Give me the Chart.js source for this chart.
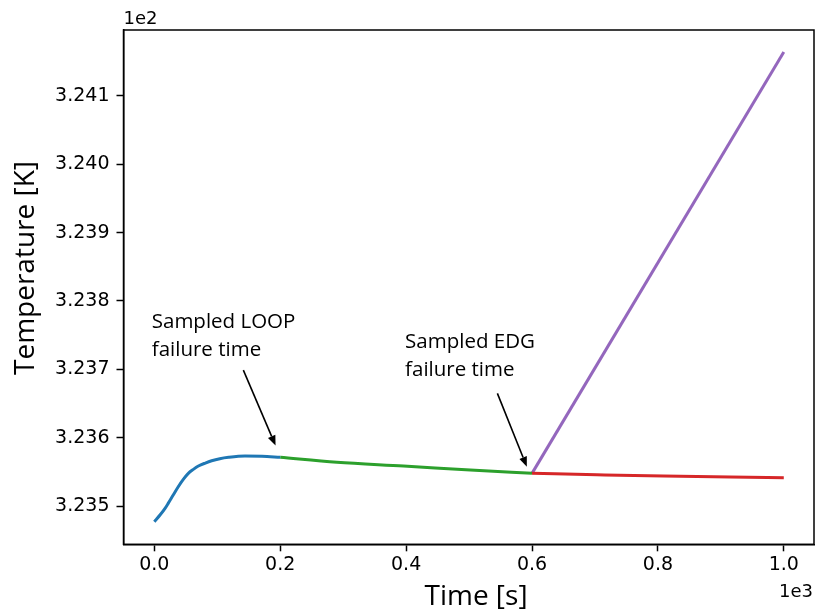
<!DOCTYPE html>
<html>
<head>
<meta charset="utf-8">
<script src="https://cdn.jsdelivr.net/npm/chart.js@4/dist/chart.umd.min.js"></script>
<style>
  html, body { margin: 0; padding: 0; background: #ffffff; }
  #wrap { width: 816px; height: 613px; position: relative; }
</style>
</head>
<body>
<div id="wrap"><canvas id="chart" width="816" height="613"></canvas></div>
<script>
// Time in seconds, temperature in kelvin.
// Phase 1: normal operation up to the sampled LOOP failure time
const normalTime = [0, 9, 17, 22, 30, 38, 46, 54, 62, 70, 81, 91, 104, 118, 144, 171, 200];
const normalTemp = [323.4771, 323.4868, 323.4966, 323.5039, 323.5161, 323.5282, 323.5390, 323.5478, 323.5536,
                    323.5585, 323.5629, 323.5662, 323.5692, 323.5712, 323.5731, 323.5727, 323.5712];

// Phase 2: after LOOP, on emergency diesel power
const loopTime = [200, 290, 396, 502, 600];
const loopTemp = [323.5712, 323.5639, 323.5585, 323.5526, 323.5478];

// Phase 3a: EDG keeps running
const edgOkTime = [600, 703, 809, 915, 1000];
const edgOkTemp = [323.5478, 323.5458, 323.5439, 323.5424, 323.5414];

// Phase 3b: EDG fails at the sampled time
const edgFailTime = [600, 1000];
const edgFailTemp = [323.5478, 324.1644];

// Axis ticks (raw units; labels shown with 1e3 / 1e2 offsets)
const xTickValues = [0, 200, 400, 600, 800, 1000];
const yTickValues = [323.5, 323.6, 323.7, 323.8, 323.9, 324.0, 324.1];

// Callouts: text anchor, arrow tail and arrow tip in data coordinates
const callouts = [
  { lines: ['Sampled LOOP', 'failure time'], text: [-4.1, 323.7610], from: [141.4, 323.6989], to: [192.6, 323.5885] },
  { lines: ['Sampled EDG', 'failure time'],  text: [398.4, 323.7306], from: [545.0, 323.6648], to: [591.8, 323.5575] }
];

function pts(xs, ys) { return xs.map((x, i) => ({ x: x, y: ys[i] })); }

const series = [
  { data: pts(normalTime, normalTemp), color: '#1f77b4', smooth: true },
  { data: pts(loopTime, loopTemp), color: '#2ca02c', smooth: true },
  { data: pts(edgOkTime, edgOkTemp), color: '#d62728', smooth: true },
  { data: pts(edgFailTime, edgFailTemp), color: '#9467bd', smooth: false }
];

const tickFont = { family: 'DejaVu Sans', size: 19 };
const titleFont = '28px "Open Sans"';
const noteFont = '20.5px "Open Sans"';

const frameAndText = {
  id: 'frameAndText',
  afterDraw(chart) {
    const ctx = chart.ctx;
    const a = chart.chartArea;
    const xs = chart.scales.x, ys = chart.scales.y;
    ctx.save();
    // axes frame
    ctx.strokeStyle = '#000';
    ctx.lineWidth = 1.5;
    ctx.strokeRect(a.left, a.top, a.right - a.left, a.bottom - a.top);

    // offset labels
    ctx.fillStyle = '#000';
    ctx.font = '18px "DejaVu Sans"';
    ctx.textAlign = 'left';
    ctx.textBaseline = 'alphabetic';
    ctx.fillText('1e2', a.left, 24);
    ctx.textAlign = 'right';
    ctx.fillText('1e3', a.right - 1, 597);

    // axis titles
    ctx.font = titleFont;
    ctx.textAlign = 'center';
    ctx.fillText('Time [s]', 476, 605);
    ctx.save();
    ctx.translate(34, 268);
    ctx.rotate(-Math.PI / 2);
    ctx.fillText('Temperature [K]', 0, 0);
    ctx.restore();

    // callouts
    ctx.font = noteFont;
    ctx.textAlign = 'left';
    callouts.forEach(c => {
      const tx = xs.getPixelForValue(c.text[0]);
      const ty = ys.getPixelForValue(c.text[1]);
      c.lines.forEach((s, i) => ctx.fillText(s, tx, ty + i * 28));
      const x0 = xs.getPixelForValue(c.from[0]), y0 = ys.getPixelForValue(c.from[1]);
      const x1 = xs.getPixelForValue(c.to[0]), y1 = ys.getPixelForValue(c.to[1]);
      const ang = Math.atan2(y1 - y0, x1 - x0);
      const headLen = 10, headHalf = 4;
      const bx = x1 - headLen * Math.cos(ang), by = y1 - headLen * Math.sin(ang);
      ctx.lineWidth = 1.6;
      ctx.beginPath();
      ctx.moveTo(x0, y0);
      ctx.lineTo(bx, by);
      ctx.stroke();
      ctx.beginPath();
      ctx.moveTo(x1, y1);
      ctx.lineTo(bx + headHalf * Math.sin(ang), by - headHalf * Math.cos(ang));
      ctx.lineTo(bx - headHalf * Math.sin(ang), by + headHalf * Math.cos(ang));
      ctx.closePath();
      ctx.fill();
    });
    ctx.restore();
  }
};

new Chart(document.getElementById('chart'), {
  type: 'scatter',
  data: {
    datasets: series.map(s => ({
      data: s.data,
      showLine: true,
      borderColor: s.color,
      backgroundColor: s.color,
      borderWidth: 3,
      pointRadius: 0,
      pointHoverRadius: 0,
      cubicInterpolationMode: s.smooth ? 'monotone' : 'default',
      tension: 0
    }))
  },
  options: {
    responsive: false,
    animation: false,
    events: [],
    layout: { padding: { top: 30, right: 2, left: 0, bottom: 0 } },
    plugins: { legend: { display: false }, tooltip: { enabled: false } },
    scales: {
      x: {
        type: 'linear',
        min: -49,
        max: 1048,
        afterFit(scale) { scale.height = 68.7; },
        afterBuildTicks(scale) { scale.ticks = xTickValues.map(v => ({ value: v })); },
        grid: { drawOnChartArea: false, drawTicks: true, tickLength: 7, tickWidth: 1.5, tickColor: '#000' },
        border: { display: true, color: '#000', width: 1.5 },
        ticks: {
          font: tickFont,
          color: '#000',
          padding: 2,
          maxRotation: 0,
          callback: v => (v / 1000).toFixed(1)
        }
      },
      y: {
        type: 'linear',
        min: 323.4440,
        max: 324.1965,
        afterFit(scale) { scale.width = 123.5; },
        afterBuildTicks(scale) { scale.ticks = yTickValues.map(v => ({ value: v })); },
        grid: { drawOnChartArea: false, drawTicks: true, tickLength: 7, tickWidth: 1.5, tickColor: '#000' },
        border: { display: true, color: '#000', width: 1.5 },
        ticks: {
          font: tickFont,
          color: '#000',
          padding: 7,
          callback: v => (v / 100).toFixed(3)
        }
      }
    }
  },
  plugins: [frameAndText]
});
</script>
</body>
</html>
